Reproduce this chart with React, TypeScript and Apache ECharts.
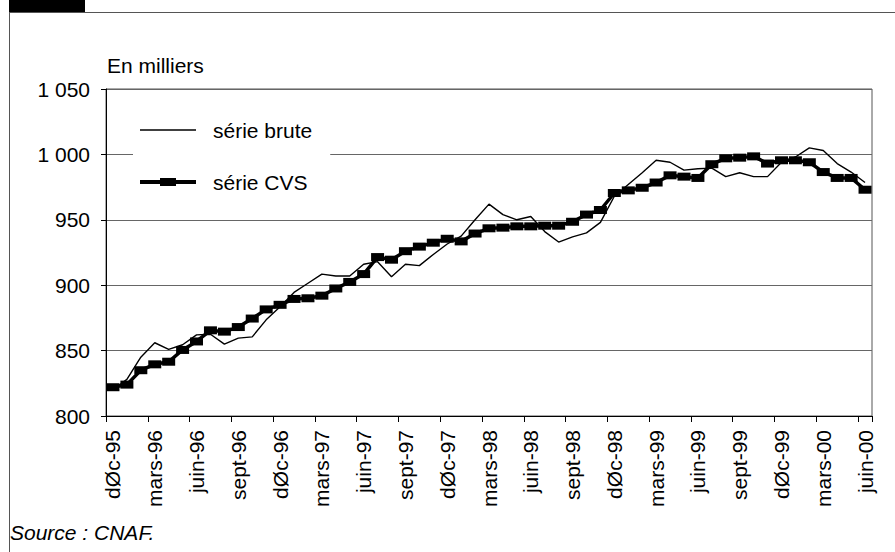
import React, { useEffect, useRef } from "react";
import * as echarts from "echarts";

const categories = [
  "dØc-95",
  "janv-96", "fØvr-96", "mars-96", "avr-96", "mai-96", "juin-96", "juil-96", "août-96", "sept-96", "oct-96", "nov-96", "dØc-96",
  "janv-97", "fØvr-97", "mars-97", "avr-97", "mai-97", "juin-97", "juil-97", "août-97", "sept-97", "oct-97", "nov-97", "dØc-97",
  "janv-98", "fØvr-98", "mars-98", "avr-98", "mai-98", "juin-98", "juil-98", "août-98", "sept-98", "oct-98", "nov-98", "dØc-98",
  "janv-99", "fØvr-99", "mars-99", "avr-99", "mai-99", "juin-99", "juil-99", "août-99", "sept-99", "oct-99", "nov-99", "dØc-99",
  "janv-00", "fØvr-00", "mars-00", "avr-00", "mai-00", "juin-00",
];

const serieBrute = [
  820, 828, 845, 856, 851, 854.5, 862, 862.5, 855, 859.5, 860.5, 873.5, 883.5,
  894.5, 901.5, 908.5, 907, 907, 916, 918, 906.5, 916, 915, 923.5, 931.5,
  937.5, 950, 962, 954, 950, 952.5, 941, 933, 937, 940, 948, 968,
  977, 986, 995.5, 994, 988, 989, 989.5, 983, 986, 983, 983, 994,
  998, 1005, 1003, 993, 986.5, 978.5,
];

const serieCVS = [
  822, 824, 835, 839.5, 841.5, 850.5, 857, 865.5, 864.5, 868, 874.5, 881.5, 885,
  889.5, 890, 892, 897.5, 902.5, 908.5, 921.5, 919.5, 926, 929.5, 932.5, 935.5,
  933.5, 939.5, 943.5, 944, 945, 945, 945.5, 945.5, 948.5, 954, 957.5, 970.5,
  972.5, 974.5, 978.5, 984, 983, 982, 992.5, 997, 997.5, 998.5, 993, 995.5,
  995.5, 994, 986.5, 982, 982, 973,
];

const seriesNames = ["série brute", "série CVS"];
const unitLabel = "En milliers";
const sourceLabel = "Source : CNAF.";

const FONT = "'Liberation Sans', Arial, sans-serif";

function formatThousands(v: number): string {
  if (v >= 1000) {
    const th = Math.floor(v / 1000);
    const rest = String(v % 1000).padStart(3, "0");
    return th + " " + rest;
  }
  return String(v);
}

export default function App() {
  const ref = useRef<HTMLDivElement>(null);

  useEffect(() => {
    if (!ref.current) return;
    const chart = echarts.init(ref.current, null, { renderer: "svg" });
    const option: any = {
      animation: false,
      backgroundColor: "#fff",
      textStyle: { fontFamily: FONT },
      grid: {
        left: 106,
        right: 23,
        top: 89,
        bottom: 136,
        containLabel: false,
        show: true,
        borderColor: "#555",
        borderWidth: 1,
        backgroundColor: "transparent",
      },
      legend: {
        orient: "vertical",
        left: 133,
        top: 108,
        backgroundColor: "#fff",
        padding: [10, 18, 10, 7],
        itemWidth: 56,
        itemHeight: 14,
        itemGap: 28,
        selectedMode: false,
        textStyle: {
          fontFamily: FONT,
          fontSize: 21,
          color: "#000",
          padding: [0, 0, 0, 12],
          lineHeight: 24,
        },
        data: [
          { name: seriesNames[0], icon: "path://M0 0H56V1.3H0Z" },
          { name: seriesNames[1], icon: "path://M0 2H20V0H36V2H56V6H36V8H20V6H0Z" },
        ],
      },
      xAxis: {
        type: "category",
        data: categories,
        boundaryGap: true,
        axisLine: { show: true, lineStyle: { color: "#000", width: 1 } },
        axisTick: { show: true, interval: 2, length: 6, lineStyle: { color: "#000" } },
        axisLabel: {
          interval: 2,
          rotate: 90,
          margin: 14,
          fontFamily: FONT,
          fontSize: 21,
          color: "#000",
        },
        splitLine: { show: false },
      },
      yAxis: {
        type: "value",
        min: 800,
        max: 1050,
        interval: 50,
        axisLine: { show: true, lineStyle: { color: "#000", width: 1 } },
        axisTick: { show: true, length: 5, lineStyle: { color: "#000" } },
        axisLabel: {
          margin: 16,
          fontFamily: FONT,
          fontSize: 21,
          color: "#000",
          formatter: (v: number) => formatThousands(v),
        },
        splitLine: { show: true, lineStyle: { color: "#666", width: 1 } },
      },
      series: [
        {
          name: seriesNames[0],
          type: "line",
          data: serieBrute,
          showSymbol: false,
          symbol: "none",
          color: "#000",
          lineStyle: { color: "#000", width: 1.4 },
          z: 2,
        },
        {
          name: seriesNames[1],
          type: "line",
          data: serieCVS,
          symbol: "rect",
          symbolSize: [13, 8],
          color: "#000",
          itemStyle: { color: "#000" },
          lineStyle: { color: "#000", width: 3.5 },
          z: 3,
        },
      ],
      graphic: [
        { type: "rect", shape: { x: 9, y: 0, width: 76, height: 12 }, style: { fill: "#000" } },
        { type: "line", shape: { x1: 9, y1: 12.5, x2: 895, y2: 12.5 }, style: { stroke: "#555", lineWidth: 1 } },
        { type: "line", shape: { x1: 9.5, y1: 12, x2: 9.5, y2: 552 }, style: { stroke: "#555", lineWidth: 1 } },
        {
          type: "text",
          x: 107,
          y: 65.5,
          style: { text: unitLabel, font: `21px ${FONT}`, fill: "#000", verticalAlign: "middle" },
        },
        {
          type: "text",
          x: 10,
          y: 532.5,
          style: { text: sourceLabel, font: `italic 21px ${FONT}`, fill: "#000", verticalAlign: "middle" },
        },
      ],
    };
    chart.setOption(option);
    return () => chart.dispose();
  }, []);

  return (
    <div
      ref={ref}
      style={{ position: "fixed", left: 0, top: 0, width: 895, height: 552, background: "#fff" }}
    />
  );
}
